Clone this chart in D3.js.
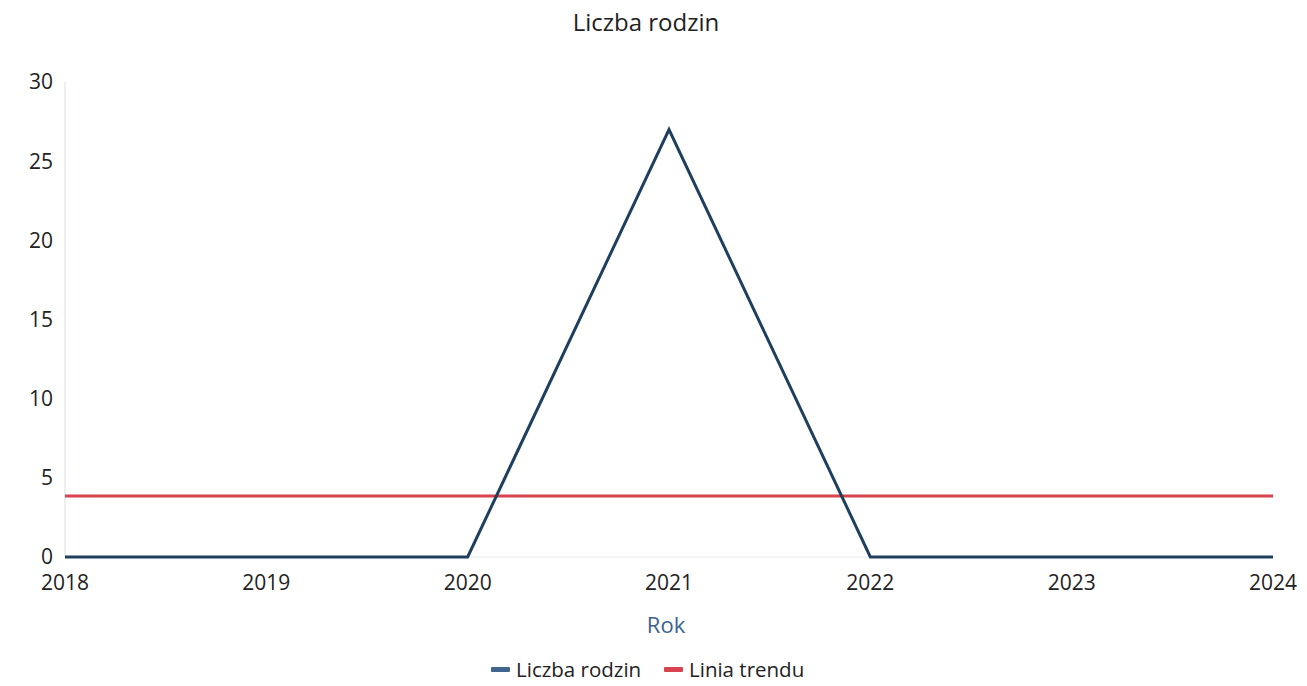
<!DOCTYPE html>
<html><head><meta charset="utf-8">
<script src="https://cdn.jsdelivr.net/npm/d3@7"></script>
<style>body{margin:0;background:#fff;font-family:"Open Sans",sans-serif;}</style>
</head><body>
<svg id="c" width="1307" height="686"></svg>
<script>
const years = [2018, 2019, 2020, 2021, 2022, 2023, 2024];
const families = [0, 0, 0, 27, 0, 0, 0];
const trend = [3.86, 3.86, 3.86, 3.86, 3.86, 3.86, 3.86];
const yTicks = [0, 5, 10, 15, 20, 25, 30];
const seriesNames = ["Liczba rodzin", "Linia trendu"];
const colors = ["#1f3f5f", "#d9434f"];

const svg = d3.select("#c");
const x = d3.scaleLinear().domain([2018, 2024]).range([65, 1273]);
const y = d3.scaleLinear().domain([0, 30]).range([557, 82]);

svg.append("line").attr("x1", 65).attr("x2", 65).attr("y1", 82).attr("y2", 557).attr("stroke", "#e6e9ef").attr("stroke-width", 1.5);
svg.append("line").attr("x1", 65).attr("x2", 1273).attr("y1", 557).attr("y2", 557).attr("stroke", "#e6e9ef");

svg.append("g").selectAll("text").data(yTicks).join("text")
  .attr("x", 53).attr("y", d => y(d)).attr("dy", "0.35em").attr("text-anchor", "end")
  .attr("font-size", 21).attr("fill", "#222").text(d => d);
svg.append("g").selectAll("text").data(years).join("text")
  .attr("x", d => x(d)).attr("y", 583).attr("dy", "0.35em").attr("text-anchor", "middle")
  .attr("font-size", 21).attr("fill", "#222").text(d => d);

svg.append("text").attr("x", 646).attr("y", 23).attr("dy", "0.35em").attr("text-anchor", "middle")
  .attr("font-size", 24).attr("fill", "#222").text("Liczba rodzin");
svg.append("text").attr("x", 666).attr("y", 625).attr("dy", "0.35em").attr("text-anchor", "middle")
  .attr("font-size", 22).attr("fill", "#3d6290").text("Rok");

const line = d3.line().x((d, i) => x(years[i])).y(d => y(d));
svg.append("path").datum(trend).attr("d", line).attr("fill", "none").attr("stroke", colors[1]).attr("stroke-width", 3);
svg.append("path").datum(families).attr("d", line).attr("fill", "none").attr("stroke", colors[0]).attr("stroke-width", 3).attr("stroke-linejoin", "miter");

const lg = svg.append("g");
const items = [{n: seriesNames[0], c: "#3f6590", x: 491}, {n: seriesNames[1], c: colors[1], x: 664}];
items.forEach(it => {
  lg.append("rect").attr("x", it.x).attr("y", 667).attr("width", 19).attr("height", 5).attr("rx", 1).attr("fill", it.c);
  lg.append("text").attr("x", it.x + 25).attr("y", 670).attr("dy", "0.35em").attr("font-size", 20.5).attr("fill", "#222").text(it.n);
});
</script>
</body></html>
